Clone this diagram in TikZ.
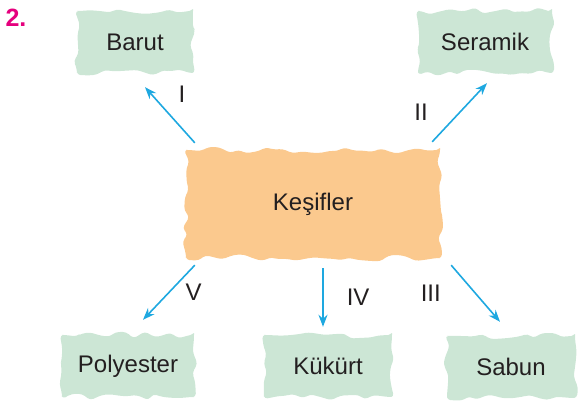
\documentclass[tikz,border=0pt]{standalone}
\usepackage{fontspec}
\setmainfont{Liberation Sans}
\usepackage{xcolor}
\usetikzlibrary{arrows.meta,positioning,decorations.pathmorphing}

\definecolor{paleGreen}{HTML}{CCE6D5}
\definecolor{paleOrange}{HTML}{FBC98E}
\definecolor{linkBlue}{HTML}{1EA8E0}
\definecolor{numMagenta}{HTML}{E5007D}
\definecolor{inkGray}{HTML}{231F20}

\begin{document}
\begin{tikzpicture}[
    x=1pt, y=1pt, on grid,
    torn/.style={decorate, decoration={random steps, segment length=9pt, amplitude=3.5pt},
      rounded corners=3.5pt, inner sep=0pt, text=inkGray, font=\fontsize{24}{28}\selectfont},
    leaf/.style={torn, fill=paleGreen, minimum height=62pt},
    hub/.style={torn, fill=paleOrange, minimum width=254pt, minimum height=108pt},
    link/.style={-{Stealth[length=12pt, width=9pt]}, linkBlue, line width=1.6pt},
    roman/.style={font=\fontsize{24}{28}\selectfont, text=inkGray, inner sep=0pt}
  ]
  \pgfmathsetseed{7}
  \useasboundingbox (0,0) rectangle (579,404);

  \node[font=\fontsize{25}{29}\selectfont\bfseries, text=numMagenta] (num) at (16,386) {2.};

  \node[hub] (kesif) at (313,200) {Keşifler};
  \node[leaf, minimum width=116pt, above left=162pt and 178pt of kesif] (barut) {Barut};
  \node[leaf, minimum width=134pt, above right=162pt and 172pt of kesif] (seramik) {Seramik};
  \node[leaf, minimum width=132pt, below left=162pt and 185pt of kesif] (polyester) {Polyester};
  \node[leaf, minimum width=128pt, below right=162pt and 15pt of kesif] (kukurt) {Kükürt};
  \node[leaf, minimum width=128pt, below right=163pt and 198pt of kesif] (sabun) {Sabun};

  \draw[link] ([shift={(9pt,7pt)}]kesif.north west) -- ([shift={(10pt,-14pt)}]barut.south)
    node[roman, midway, above right=12pt and 8pt] {I};
  \draw[link] ([shift={(-8pt,8pt)}]kesif.north east) -- ([shift={(2pt,-10pt)}]seramik.south)
    node[roman, midway, left=31pt] {II};
  \draw[link] ([shift={(9pt,-7pt)}]kesif.south west) -- ([shift={(15pt,15pt)}]polyester.north)
    node[roman, midway, right=16pt] {V};
  \draw[link] ([shift={(10pt,-10pt)}]kesif.south) -- ([shift={(-5pt,8pt)}]kukurt.north)
    node[roman, midway, right=23pt] {IV};
  \draw[link] ([shift={(11pt,-7pt)}]kesif.south east) -- ([shift={(-11pt,14pt)}]sabun.north)
    node[roman, midway, left=34pt] {III};

  \end{tikzpicture}
\end{document}
